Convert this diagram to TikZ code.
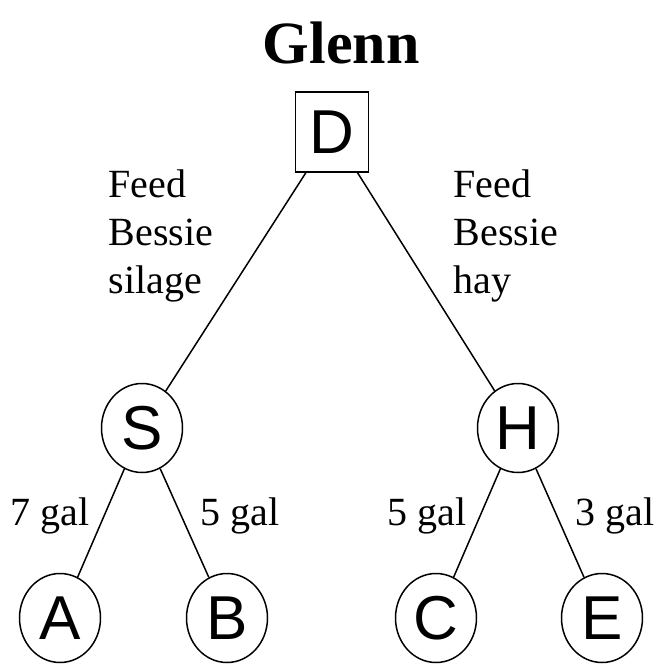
\documentclass[tikz,border=0pt]{standalone}
\usepackage{fontspec}
\setmainfont{Liberation Serif}
\newfontfamily\lettersf{Liberation Sans}
\usetikzlibrary{shapes.geometric}

\begin{document}
\begin{tikzpicture}[x=0.5pt, y=-0.5pt, line width=0.75pt,
    state/.style={ellipse, draw, minimum width=40.5pt, minimum height=44.5pt, inner sep=0pt, font=\lettersf\fontsize{31}{33}\selectfont},
    choice/.style={rectangle, draw, minimum width=36.5pt, minimum height=40pt, inner sep=0pt, font=\lettersf\fontsize{31}{33}\selectfont},
    lbl/.style={anchor=base west, inner sep=0pt, font=\fontsize{20}{24}\selectfont, align=left}]
      \useasboundingbox (0,0) rectangle (659,665);

      \node[anchor=base, inner sep=0pt, font=\bfseries\fontsize{30}{32}\selectfont] (title) at (341,63) {Glenn};

      \node[choice] (D) at (332,132) {D};
      \node[state] (S) at (142,428) {S};
      \node[state] (H) at (518,428) {H};
      \node[state] (A) at (60,618) {A};
      \node[state] (B) at (227,618) {B};
      \node[state] (C) at (436,618) {C};
      \node[state] (E) at (602,618) {E};

      \draw (D) -- (S);
      \draw (D) -- (H);
      \draw (S) -- (A);
      \draw (S) -- (B);
      \draw (H) -- (C);
      \draw (H) -- (E);

      \node[lbl] (silage) at (108,293) {Feed\\Bessie\\silage};
      \node[lbl] (hay) at (453,293) {Feed\\Bessie\\hay};
      \node[lbl] (sa) at (10,525) {7 gal};
      \node[lbl] (sb) at (200,525) {5 gal};
      \node[lbl] (hc) at (387,525) {5 gal};
      \node[lbl] (he) at (575,525) {3 gal};

    \end{tikzpicture}
\end{document}
